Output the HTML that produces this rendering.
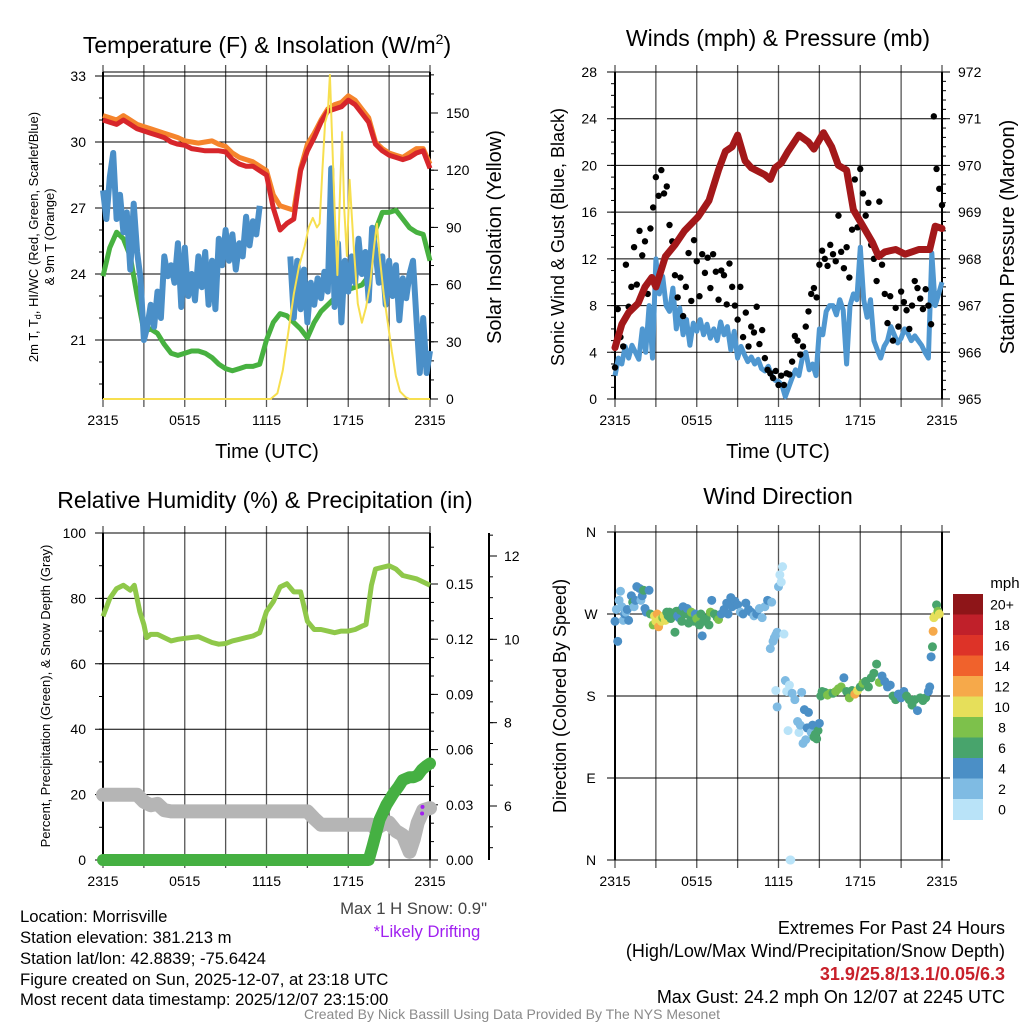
<!DOCTYPE html>
<html><head><meta charset="utf-8">
<style>
html,body{margin:0;padding:0;background:#fff;}
svg{display:block;font-family:"Liberation Sans",Arial,sans-serif;}
</style></head>
<body>
<svg id="chart" width="1024" height="1024" viewBox="0 0 1024 1024" xmlns="http://www.w3.org/2000/svg">
<rect width="1024" height="1024" fill="#fff"/>
<text x="267" y="53" font-size="23" text-anchor="middle">Temperature (F) &amp; Insolation (W/m<tspan font-size="14" dy="-9">2</tspan><tspan dy="9">)</tspan></text>
<text x="778" y="46" font-size="23" text-anchor="middle">Winds (mph) &amp; Pressure (mb)</text>
<text x="265" y="508" font-size="23" text-anchor="middle">Relative Humidity (%) &amp; Precipitation (in)</text>
<text x="778" y="504" font-size="23" text-anchor="middle">Wind Direction</text>

<text x="267" y="458" font-size="20" text-anchor="middle">Time (UTC)</text>
<text x="778" y="458" font-size="20" text-anchor="middle">Time (UTC)</text>
<text transform="translate(38,237) rotate(-90)" font-size="13" text-anchor="middle">2m T, T<tspan font-size="9" dy="3">d</tspan><tspan dy="-3">, HI/WC (Red, Green, Scarlet/Blue)</tspan></text>
<text transform="translate(54,237) rotate(-90)" font-size="13" text-anchor="middle">&amp; 9m T (Orange)</text>
<text transform="translate(501,237) rotate(-90)" font-size="20" text-anchor="middle">Solar Insolation (Yellow)</text>
<text transform="translate(564,237) rotate(-90)" font-size="18" text-anchor="middle">Sonic Wind &amp; Gust (Blue, Black)</text>
<text transform="translate(1014,237) rotate(-90)" font-size="20" text-anchor="middle">Station Pressure (Maroon)</text>
<text transform="translate(50,696) rotate(-90)" font-size="13" text-anchor="middle">Percent, Precipitation (Green), &amp; Snow Depth (Gray)</text>
<text transform="translate(566,696) rotate(-90)" font-size="18" text-anchor="middle">Direction (Colored By Speed)</text>

<g font-size="16.7">
<text x="20" y="922">Location: Morrisville</text>
<text x="20" y="943">Station elevation: 381.213 m</text>
<text x="20" y="964">Station lat/lon: 42.8839; -75.6424</text>
<text x="20" y="985">Figure created on Sun, 2025-12-07, at 23:18 UTC</text>
<text x="20" y="1005">Most recent data timestamp: 2025/12/07 23:15:00</text>
<text x="487" y="914" text-anchor="end" fill="#444">Max 1 H Snow: 0.9"</text>
<text x="427" y="937" text-anchor="middle" fill="#a020f0">*Likely Drifting</text>
<g font-size="18">
<text x="1005" y="934" text-anchor="end">Extremes For Past 24 Hours</text>
<text x="1005" y="957" text-anchor="end">(High/Low/Max Wind/Precipitation/Snow Depth)</text>
<text x="1005" y="980" text-anchor="end" fill="#c8202a" font-weight="bold">31.9/25.8/13.1/0.05/6.3</text>
<text x="1005" y="1003" text-anchor="end">Max Gust: 24.2 mph On 12/07 at 2245 UTC</text>
</g>
<text x="512" y="1019" text-anchor="middle" fill="#8a8a8a" font-size="14">Created By Nick Bassill Using Data Provided By The NYS Mesonet</text>
</g>
</svg>
<script>
// ---------- DATA ----------
const xTickLabels = ["2315","0515","1115","1715","2315"];
const tempTicks = [21,24,27,30,33];
const insTicks = [0,30,60,90,120,150];
const windTicks = [0,4,8,12,16,20,24,28];
const presTicks = [965,966,967,968,969,970,971,972];
const rhTicks = [0,20,40,60,80,100];
const precTicks = [0.00,0.03,0.06,0.09,0.12,0.15];
const snowTicks = [6,8,10,12];
const dirLabels = ["N","E","S","W","N"];
const dirTicks = [0,90,180,270,360];

const tempRed = [31.0,30.9,30.8,31.0,30.8,30.6,30.5,30.4,30.3,30.2,30.0,29.9,29.85,29.7,29.65,29.6,29.6,29.6,29.55,29.2,29.0,28.9,28.9,28.7,28.5,27.0,26.0,26.3,26.5,28.7,29.6,30.2,30.9,31.4,31.5,31.6,31.9,31.7,31.3,30.9,29.9,29.6,29.4,29.3,29.2,29.3,29.5,29.6,28.8];
const temp9m = [31.2,31.1,31.0,31.2,31.0,30.8,30.7,30.6,30.5,30.4,30.3,30.2,30.05,30.0,29.95,30.0,30.05,29.9,29.8,29.5,29.3,29.2,29.1,28.9,28.7,27.6,27.1,27.0,26.9,28.8,29.9,30.4,31.0,31.5,31.7,31.8,32.1,31.9,31.5,31.1,30.0,29.7,29.5,29.4,29.3,29.5,29.7,29.7,29.0];
const dewpt = [23.9,25.2,25.9,25.6,24.8,23.0,21.4,21.5,21.3,20.8,20.4,20.3,20.4,20.5,20.5,20.4,20.2,19.9,19.7,19.6,19.7,19.8,19.8,19.9,21.0,21.8,22.2,22.1,21.8,21.5,21.1,21.8,22.3,22.6,22.9,23.1,23.3,23.4,23.5,23.9,26.0,26.8,26.8,26.9,26.5,26.1,25.9,25.8,24.6];
const windChill = [27.8,26.5,28.4,29.5,26.5,27.6,25.9,26.8,
24.2,27.2,25.0,23.8,21.0,21.6,22.6,21.6,
23.2,22.0,24.8,23.9,24.4,23.6,25.4,22.5,
25.2,23.0,24.0,22.8,24.8,23.4,25.0,22.6,
24.6,22.4,25.6,24.4,26.0,24.6,25.8,24.2,
25.4,24.8,26.6,25.3,26.4,25.8,27.1,null,
null,null,null,null,null,null,null,24.8,
22.0,24.6,22.4,24.2,21.8,23.6,22.6,23.8,
22.9,24.1,23.2,28.8,22.5,25.4,21.8,24.6,
23.2,24.8,23.6,25.6,24.0,25.0,22.8,26.1,
25.0,23.6,24.8,22.6,24.6,23.0,24.4,21.9,
23.8,22.9,24.0,24.6,22.0,19.5,22.0,19.5,
20.5];
const insTimes = [0,12.3,12.8,13.2,13.6,14,14.4,14.8,15.1,15.4,15.7,15.9,16.1,16.3,16.5,16.65,16.8,17.0,17.2,17.4,17.55,17.7,17.9,18.1,18.4,18.7,19.0,19.3,19.6,19.9,20.1,20.3,20.6,20.9,21.2,21.5,21.8,22.2,22.5,24];
const insValues = [0,0,3,15,35,55,70,80,90,95,90,92,120,145,150,170,140,100,65,110,140,100,75,115,80,50,40,48,60,80,92,75,55,40,25,12,4,1,0,0];

const sonicWind = [2.0,3.5,3.0,4.5,3.5,4.6,4.0,3.4,
6.0,4.0,8.0,3.5,12.0,9.0,10.5,8.0,
7.5,9.5,6.0,7.8,5.5,6.8,4.6,6.5,
5.8,6.8,5.5,6.4,5.2,6.0,5.0,6.6,
5.5,6.2,4.2,5.8,3.5,4.5,3.8,3.2,
3.6,3.0,3.4,2.6,2.4,2.8,2.0,1.6,
1.5,1.2,0.2,1.0,1.8,2.5,2.0,3.5,
4.0,2.5,3.0,2.0,6.0,5.5,7.5,8.0,
8.0,7.2,8.5,7.6,3.0,8.0,9.0,8.5,
13.0,8.5,7.0,8.5,5.0,4.2,3.5,4.5,
5.0,6.2,5.5,4.8,5.2,6.0,5.6,5.0,
5.4,5.0,4.6,4.0,3.5,12.5,8.0,9.0,
10.0];
const gusts = [2.7,7.7,5.3,4.5,11.5,7.9,9.6,13.0,9.8,14.4,12.3,13.5,9.0,14.6,16.4,19.0,
17.4,19.6,17.6,18.2,14.9,
13.5,10.6,8.7,10.4,7.1,9.6,12.5,8.4,13.6,11.8,8.8,12.4,10.8,12.1,9.5,12.4,10.9,8.5,11.0,10.6,8.1,11.6,9.6,8.0,6.8,
9.6,5.3,7.4,4.5,6.2,5.7,7.9,4.7,5.9,3.5,2.5,2.2,1.8,2.4,1.2,
2.0,1.2,2.2,2.1,3.2,5.4,5.0,3.8,4.5,6.2,7.5,9.0,
9.5,8.7,11.5,12.7,12.0,11.4,13.2,12.4,11.8,15.7,12.6,11.2,13.0,10.4,14.5,18.8,14.7,19.7,
17.6,15.7,16.8,13.2,12.0,10.1,16.9,11.5,
9.0,6.5,8.8,5.0,7.8,6.2,9.2,8.3,7.6,6.0,8.0,10.1,9.5,8.6,7.7,9.4,8.0,6.4,
24.2,19.7,18.0,16.6];
const presTimes = [0,0.5,1,1.7,2.2,2.7,3,3.7,4.4,5.1,6.1,6.9,7.6,8.1,8.6,9,9.55,10,11,11.4,11.75,12.2,12.7,13.5,14.2,14.6,15.3,15.9,16.4,17,17.5,18.2,18.9,19.35,19.8,20.6,21.3,22.3,23.1,23.5,24];
const presValues = [966.1,966.6,966.85,967.05,967.4,967.6,967.4,968.05,968.3,968.6,968.9,969.25,969.9,970.3,970.4,970.65,970.1,969.95,969.8,969.7,969.95,970.05,970.3,970.65,970.5,970.35,970.7,970.4,970.0,969.9,969.05,968.7,968.35,968.05,968.15,968.2,968.1,968.2,968.2,968.7,968.65];

const rhTimes = [0,0.5,1,1.5,2,2.3,2.7,3,3.2,3.5,4,4.5,5,5.5,6,7,8,8.5,9,9.5,10,10.5,11,11.5,12,12.5,13,13.5,14,14.5,15,15.5,16,16.5,17,17.5,18,18.5,19,19.3,19.7,20,21,21.5,22,23,24];
const rhValues = [74.5,80,83,84,82.5,84,76,72,68,69,69,68,67,67.5,67.8,68.3,66.5,66,66.2,67,67.5,68,68.5,69.5,76,79,83.5,84.5,82,82,73,70.5,70.5,70,69.5,70,70,70.5,71.5,72,84,89,90,89,87,86,84];
const precTimes = [0,19.5,19.8,20.3,20.8,21.3,21.7,22,22.5,22.8,23.1,23.4,23.7,24];
const precValues = [0,0,0.008,0.022,0.030,0.036,0.040,0.0435,0.045,0.045,0.046,0.049,0.051,0.0525];
const snowTimes = [0,2.5,3,3.5,4,4.5,5,15,15.5,16,19.7,20,20.5,21,21.5,22,22.5,22.8,23.1,23.5,24];
const snowValues = [6.27,6.27,6.1,6.02,6.05,5.9,5.87,5.87,5.7,5.55,5.55,5.45,5.55,5.6,5.4,5.3,4.9,5.2,5.6,5.9,5.95];
const driftTimes = [23.45,23.42];
const driftValues = [5.98,5.82];

const dirTimes = [0.0,0.1,0.2,0.3,0.4,0.5,0.6,0.7,0.8,0.9,
1.0,1.2,1.3,1.4,1.5,1.6,1.8,1.9,2.0,2.1,
2.2,2.3,2.5,2.6,2.8,2.9,3.0,3.1,3.2,3.3,
3.4,3.5,3.6,3.7,3.8,3.9,4.0,4.1,4.3,4.4,
4.5,4.6,4.7,4.8,4.9,5.0,5.1,5.3,5.4,5.5,
5.6,5.8,5.9,6.0,6.2,6.3,6.4,6.5,6.7,6.9,
7.0,7.1,7.3,7.5,7.6,7.8,8.0,8.2,8.3,8.5,
8.6,8.8,9.0,9.2,9.4,9.6,9.8,10.0,10.2,10.4,
10.6,10.8,11.0,11.2,11.5,11.4,11.6,11.7,11.8,11.9,
12.0,12.1,12.2,12.3,12.4,11.8,11.9,12.5,12.6,12.7,
12.8,12.85,12.9,13.0,13.2,13.4,13.5,13.6,13.7,13.8,
13.9,14.0,14.1,14.2,14.4,14.5,14.6,14.7,14.8,14.9,
15.0,15.1,15.2,15.4,15.6,15.8,16.0,16.2,16.4,16.6,
16.8,17.0,17.2,17.4,17.6,17.8,18.0,18.2,18.4,18.6,
18.8,19.0,19.2,19.4,19.6,19.8,20.0,20.2,20.4,20.6,
20.8,21.0,21.2,21.4,21.6,21.8,22.0,22.2,22.4,22.6,
22.8,23.0,23.1,23.2,23.3,23.35,23.4,23.5,23.6,23.7,23.8];
const dirDegrees = [262,275,240,285,295,278,263,270,272,275,
263,290,283,278,285,300,298,285,290,296,
276,272,296,270,258,268,262,270,256,264,
262,266,268,263,272,268,272,265,270,250,
273,268,266,274,262,278,270,276,260,268,
272,262,270,265,258,270,246,262,265,258,
272,285,270,266,264,270,275,282,270,288,
278,284,280,272,270,282,275,272,268,270,
276,266,278,285,283,232,240,244,247,250,
300,313,305,322,248,186,168,197,185,142,
192,0,0,183,176,152,140,148,184,128,
165,132,145,162,140,148,135,138,133,142,
150,180,185,184,181,183,183,185,188,190,
200,185,178,186,182,186,190,194,196,190,
200,205,215,195,202,196,190,192,180,176,
182,178,185,180,176,170,176,164,178,175,
178,185,190,223,234,251,266,268,280,273,270];
const dirSpeeds = [4,3,4,2,2,3,2,4,3,4,
4,4,7,3,4,4,4,2,5,6,
5,4,4,7,8,10,11,12,13,10,
10,8,10,10,7,6,7,6,6,6,
6,5,4,6,6,4,6,4,6,6,
8,7,5,8,7,6,4,6,7,6,
8,4,6,7,8,4,4,4,4,4,
4,4,4,3,4,4,4,4,3,4,
3,3,3,4,3,2,2,2,2,2,
2,1,1,0,1,1,3,2,1,1,
1,0,0,2,3,2,1,2,3,2,
4,2,4,4,3,4,7,6,6,6,
4,6,6,7,8,8,7,8,8,8,
4,6,8,7,12,10,7,8,7,6,
6,7,6,8,4,4,4,4,6,6,
4,4,4,6,6,6,6,4,6,6,
6,4,4,4,7,12,10,10,6,8,10];
const speedBinLabels = ["0","2","4","6","8","10","12","14","16","18","20+"];
const speedBinColors = ["#b9e3f8","#7fbbe3","#4b8fc6","#48a46c","#7dc14b","#e6df5a","#f6a94a","#f0622c","#dd3328","#c0202a","#8e1518"];

// ---------- HELPERS ----------
const NS = "http://www.w3.org/2000/svg";
const svg = document.getElementById('chart');
function mk(tag, attrs, parent){
  const e = document.createElementNS(NS, tag);
  for (const k in attrs) e.setAttribute(k, attrs[k]);
  (parent || svg).appendChild(e);
  return e;
}
function halfHours(n){ const a=[]; for(let i=0;i<n;i++) a.push(i*24/(n-1)); return a; }
function linScale(d0,d1,r0,r1){ return v => r0 + (v-d0)/(d1-d0)*(r1-r0); }
function pathFrom(ts, vs, xs, ys){
  let d = "", pen = false;
  for (let i=0;i<ts.length;i++){
    if (vs[i]===null){ pen=false; continue; }
    d += (pen?"L":"M") + xs(ts[i]).toFixed(1) + "," + ys(vs[i]).toFixed(1);
    pen = true;
  }
  return d;
}
function drawFrame(P, name){
  const g = mk('g', {});
  
  
  for (let h=0; h<=24; h+=3){
    const x = P.xs(h);
    const l = mk('line', {x1:x, y1:P.y0-7, x2:x, y2:P.y1+8, stroke:"#555", "stroke-width":1.3}, g);
    
    
  }
  xTickLabels.forEach((lab,i)=>{
    const t = mk('text', {x:P.xs(i*6), y:P.y1+26, "font-size":14, "text-anchor":"middle"}, g);
    t.textContent = lab;
    
    
  });
  mk('line', {x1:P.x0, y1:P.y0, x2:P.x0, y2:P.y1, stroke:"#000", "stroke-width":2}, g);
  mk('line', {x1:P.x1, y1:P.y0, x2:P.x1, y2:P.y1, stroke:"#000", "stroke-width":2}, g);
  return g;
}
function hGrid(g, P, ticks, ys, labelFn, name, xLab, minorStep, lo, hi){
  ticks.forEach(v=>{
    const y = ys(v);
    const l = mk('line', {x1:P.x0-8, y1:y, x2:P.x1+ (P.rightExt||0), y2:y, stroke:"#000", "stroke-width":1}, g);
    
    
    const t = mk('text', {x:xLab, y:y+5, "font-size":14, "text-anchor":"end"}, g);
    t.textContent = labelFn(v);
    
    
  });
  if (minorStep){
    for (let v=lo; v<=hi+1e-9; v+=minorStep){
      mk('line', {x1:P.x0-4, y1:ys(v), x2:P.x0, y2:ys(v), stroke:"#000", "stroke-width":1}, g);
    }
  }
}
function rightAxis(g, P, ticks, ys, labelFn, name, minorStep, lo, hi, xAxis){
  const xa = xAxis || P.x1;
  ticks.forEach(v=>{
    const y = ys(v);
    mk('line', {x1:xa, y1:y, x2:xa+8, y2:y, stroke:"#000", "stroke-width":1}, g);
    const t = mk('text', {x:xa+16, y:y+5, "font-size":14}, g);
    t.textContent = labelFn(v);
    
    
  });
  if (minorStep){
    for (let v=lo; v<=hi+1e-9; v+=minorStep){
      if (ys(v) < P.y0-1 || ys(v) > P.y1+1) continue;
      mk('line', {x1:xa, y1:ys(v), x2:xa+4, y2:ys(v), stroke:"#000", "stroke-width":1}, g);
    }
  }
}

// ---------- PANEL 1 ----------
(function(){
  const P = {x0:103, x1:430, y0:72, y1:399};
  P.xs = linScale(0,24,P.x0,P.x1);
  const yT = linScale(21,33,340,76);
  const yI = linScale(0,150,399,113);
  const g = drawFrame(P, 'temp');
  mk('line', {x1:P.x0, y1:P.y0, x2:P.x1, y2:P.y0, stroke:"#000", "stroke-width":1}, g);
  mk('line', {x1:P.x0, y1:P.y1, x2:P.x1, y2:P.y1, stroke:"#000", "stroke-width":1}, g);
  hGrid(g, P, tempTicks, yT, v=>String(v), 'temp', 86, 1, 19, 33);
  rightAxis(g, P, insTicks, yI, v=>String(v), 'insolation', 10, 0, 170);
  const T49 = halfHours(49), T97 = halfHours(97);
  const s1 = mk('path', {d:pathFrom(T49,temp9m,P.xs,yT), fill:"none", stroke:"#f5842c", "stroke-width":5, "stroke-linejoin":"round"});
  
  
  const s2 = mk('path', {d:pathFrom(T49,tempRed,P.xs,yT), fill:"none", stroke:"#d7262b", "stroke-width":5, "stroke-linejoin":"round"});
  
  
  const s3 = mk('path', {d:pathFrom(T49,dewpt,P.xs,yT), fill:"none", stroke:"#47b140", "stroke-width":5, "stroke-linejoin":"round"});
  
  
  const s4 = mk('path', {d:pathFrom(T97,windChill,P.xs,yT), fill:"none", stroke:"#4a8fc8", "stroke-width":6, "stroke-linejoin":"round"});
  
  
  const s5 = mk('path', {d:pathFrom(insTimes,insValues,P.xs,yI), fill:"none", stroke:"#f7df4f", "stroke-width":2, "stroke-linejoin":"round"});
  
  
})();

// ---------- PANEL 2 ----------
(function(){
  const P = {x0:615, x1:942, y0:72, y1:399};
  P.xs = linScale(0,24,P.x0,P.x1);
  const yW = linScale(0,28,399,72);
  const yP = linScale(965,972,399,72);
  const g = drawFrame(P, 'winds');
  hGrid(g, P, windTicks, yW, v=>String(v), 'winds', 597, 1, 0, 28);
  rightAxis(g, P, presTicks, yP, v=>String(v), 'pressure', 0.2, 965, 972);
  const T97 = halfHours(97), T121 = halfHours(121);
  const s1 = mk('path', {d:pathFrom(T97,sonicWind,P.xs,yW), fill:"none", stroke:"#4f97d0", "stroke-width":5, "stroke-linejoin":"round"});
  
  
  const gg = mk('g', {fill:"#000"});
  
  
  gusts.forEach((v,i)=>{
    const c = mk('circle', {cx:P.xs(T121[i]), cy:yW(v), r:3.2}, gg);
    
    
  });
  const s2 = mk('path', {d:pathFrom(presTimes,presValues,P.xs,yP), fill:"none", stroke:"#a3181a", "stroke-width":7, "stroke-linejoin":"round", "stroke-linecap":"round"});
  
  
})();

// ---------- PANEL 3 ----------
(function(){
  const P = {x0:103, x1:430, y0:533, y1:860};
  P.xs = linScale(0,24,P.x0,P.x1);
  const yR = linScale(0,100,860,533);
  const yPr = linScale(0,0.15,860,584);
  const yS = linScale(6,12,806,556);
  const g = drawFrame(P, 'rh');
  mk('line', {x1:P.x0, y1:P.y1, x2:P.x1, y2:P.y1, stroke:"#000", "stroke-width":1}, g);
  hGrid(g, P, rhTicks, yR, v=>String(v), 'rh', 86, 10, 0, 100);
  rightAxis(g, P, precTicks, yPr, v=>v.toFixed(2), 'precip', 0.01, 0, 0.17);
  mk('line', {x1:489, y1:533, x2:489, y2:860, stroke:"#000", "stroke-width":2}, g);
  snowTicks.forEach(v=>{
    mk('line', {x1:489, y1:yS(v), x2:497, y2:yS(v), stroke:"#000", "stroke-width":1}, g);
    const t = mk('text', {x:504, y:yS(v)+5, "font-size":14}, g);
    t.textContent = String(v);
    
    
  });
  for (let v=5; v<=12.5; v+=0.5) mk('line', {x1:489, y1:yS(v), x2:493, y2:yS(v), stroke:"#000", "stroke-width":1}, g);
  const s1 = mk('path', {d:pathFrom(rhTimes,rhValues,P.xs,yR), fill:"none", stroke:"#8fc84a", "stroke-width":5, "stroke-linejoin":"round"});
  
  
  const s2 = mk('path', {d:pathFrom(snowTimes,snowValues,P.xs,yS), fill:"none", stroke:"#b5b5b5", "stroke-width":14, "stroke-linejoin":"round", "stroke-linecap":"round"});
  
  
  const s3 = mk('path', {d:pathFrom(precTimes,precValues,P.xs,yPr), fill:"none", stroke:"#45b042", "stroke-width":12, "stroke-linejoin":"round", "stroke-linecap":"round"});
  
  
  driftTimes.forEach((t,i)=>{
    const c = mk('circle', {cx:P.xs(t), cy:yS(driftValues[i]), r:2, fill:"#a020f0"});
    
    
  });
})();

// ---------- PANEL 4 ----------
(function(){
  const P = {x0:615, x1:942, y0:532, y1:860, rightExt:8};
  P.xs = linScale(0,24,P.x0,P.x1);
  const yD = linScale(0,360,860,532);
  const g = drawFrame(P, 'dir');
  dirTicks.forEach((v,i)=>{
    const l = mk('line', {x1:P.x0-8, y1:yD(v), x2:P.x1+8, y2:yD(v), stroke:"#000", "stroke-width":1}, g);
    
    
    const t = mk('text', {x:591, y:yD(v)+5, "font-size":14, "text-anchor":"middle"}, g);
    t.textContent = dirLabels[i];
    
    
  });
  const gg = mk('g', {});
  
  
  dirTimes.forEach((t,i)=>{
    const bin = Math.min(10, Math.floor(dirSpeeds[i]/2));
    const c = mk('circle', {cx:P.xs(t), cy:yD(dirDegrees[i]), r:4.5, fill:speedBinColors[bin]}, gg);
    
    
  });
  const cb = mk('g', {});
  
  
  const tt = mk('text', {x:1005, y:588, "font-size":15, "text-anchor":"middle"}, cb);
  tt.textContent = "mph";
  const boxH = 20.5, top = 594;
  for (let k=0;k<speedBinLabels.length;k++){
    const idx = speedBinLabels.length-1-k;
    const r = mk('rect', {x:953, y:top+k*boxH, width:30, height:boxH+0.5, fill:speedBinColors[idx]}, cb);
    
    
    const t = mk('text', {x:1002, y:top+k*boxH+boxH/2+5, "font-size":14, "text-anchor":"middle"}, cb);
    t.textContent = speedBinLabels[idx];
    
    
  }
})();
</script>
</body></html>
